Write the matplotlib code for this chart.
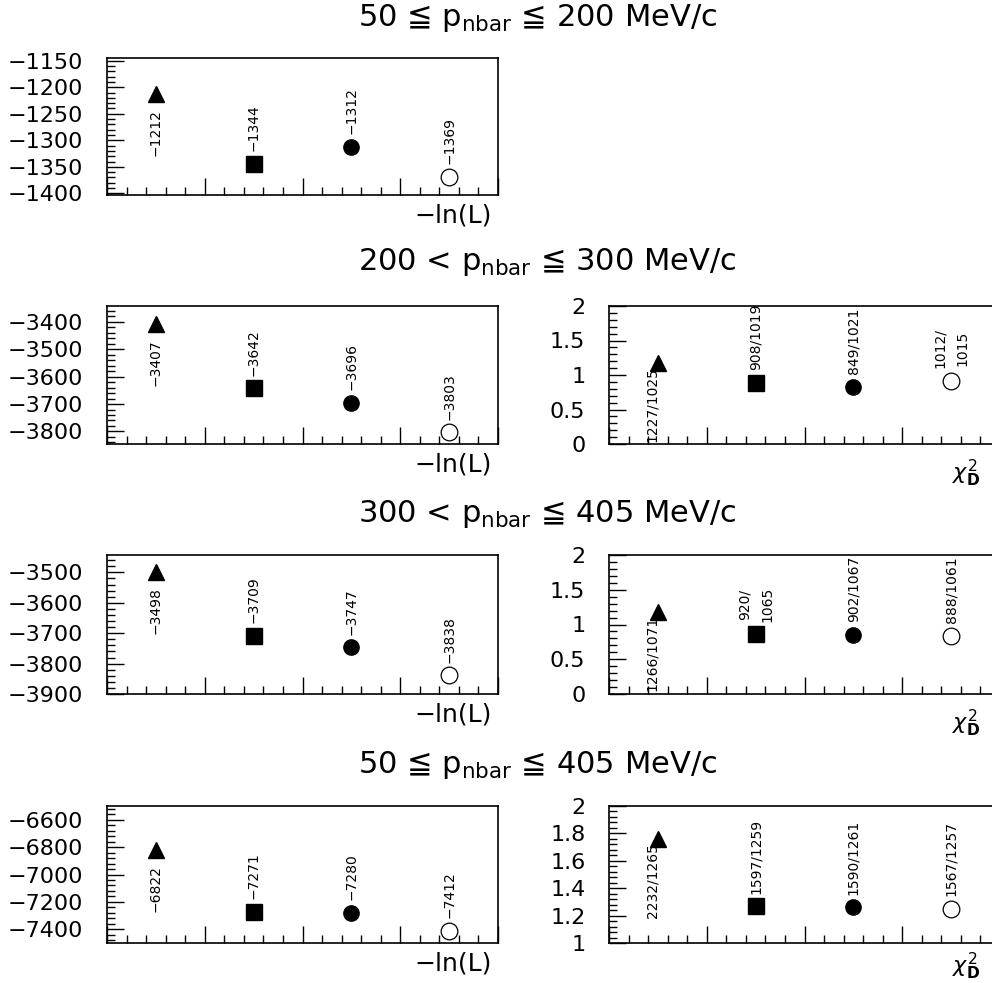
import matplotlib
matplotlib.use("Agg")
import matplotlib.pyplot as plt
from matplotlib.ticker import MultipleLocator, FuncFormatter

W, H = 992, 983

# x positions of the four fits (same in every panel)
x_pos = [0.5, 1.5, 2.5, 3.5]

titles = [
    r"50 ≦ $\mathrm{p}_{\mathrm{nbar}}$ ≦ 200 MeV/c",
    r"200 < $\mathrm{p}_{\mathrm{nbar}}$ ≦ 300 MeV/c",
    r"300 < $\mathrm{p}_{\mathrm{nbar}}$ ≦ 405 MeV/c",
    r"50 ≦ $\mathrm{p}_{\mathrm{nbar}}$ ≦ 405 MeV/c",
]

# -ln(L) values
lnl_50_200 = [-1212, -1344, -1312, -1369]
lnl_200_300 = [-3407, -3642, -3696, -3803]
lnl_300_405 = [-3498, -3709, -3747, -3838]
lnl_50_405 = [-6822, -7271, -7280, -7412]

# chi2 / ndf values (as drawn) and their labels
chi_200_300 = [1.18, 0.89, 0.83, 0.92]
chi_300_405 = [1.18, 0.86, 0.85, 0.84]
chi_50_405 = [1.76, 1.27, 1.26, 1.25]
chi_lab_200_300 = ["1227/1025", "908/1019", "849/1021", "1012/\n1015"]
chi_lab_300_405 = ["1266/1071", "920/\n1065", "902/1067", "888/1061"]
chi_lab_50_405 = ["2232/1265", "1597/1259", "1590/1261", "1567/1257"]

# y ranges and major tick steps
lnl_ylims = [(-1403, -1145), (-3846, -3342), (-3900, -3443), (-7500, -6500)]
lnl_steps = [50, 100, 100, 200]
chi_ylims = [(0, 2), (0, 2), (1, 2)]
chi_steps = [0.5, 0.5, 0.2]

# panel rows in pixels (top, bottom)
rows = [(58, 195), (306, 444), (555, 694), (806, 943)]
title_y = [18, 262, 514, 765]
chi_label_y = [-0.1, -0.1, -0.06]


def fmt(v, pos=None):
    return f"{v:g}".replace("-", "\u2212")


def make_axes(x0, top, bottom, width=391):
    ax = fig.add_axes([x0 / W, 1 - bottom / H, width / W, (bottom - top) / H])
    for s in ax.spines.values():
        s.set_linewidth(1.2)
    ax.set_xlim(0, 4)
    ax.xaxis.set_major_locator(MultipleLocator(1))
    ax.xaxis.set_minor_locator(MultipleLocator(0.2))
    ax.tick_params(which="both", direction="in", top=False, right=False,
                   labelbottom=False, width=1)
    ax.tick_params(which="major", length=12)
    ax.tick_params(which="minor", length=6)
    ax.tick_params(axis="y", labelsize=16, pad=17)
    return ax


def draw_points(ax, vals):
    ax.plot(x_pos[0], vals[0], "^", color="black", ms=12)
    ax.plot(x_pos[1], vals[1], "s", color="black", ms=11)
    ax.plot(x_pos[2], vals[2], "o", color="black", ms=11)
    ax.plot(x_pos[3], vals[3], "o", mfc="white", mec="black", mew=0.9, ms=12)


def draw_labels(ax, vals, labels, below_off):
    ax.annotate(labels[0], (x_pos[0], vals[0]), xytext=below_off,
                textcoords="offset points", rotation=90, ha="center", va="top",
                fontsize=10)
    for x, v, t in zip(x_pos[1:], vals[1:], labels[1:]):
        ax.annotate(t, (x, v), xytext=(0, 9), textcoords="offset points",
                    rotation=90, ha="center", va="bottom", fontsize=10,
                    linespacing=1.8)


fig = plt.figure(figsize=(W / 100, H / 100), dpi=100)

lnl_sets = [lnl_50_200, lnl_200_300, lnl_300_405, lnl_50_405]
for i, vals in enumerate(lnl_sets):
    top, bottom = rows[i]
    ax = make_axes(107, top, bottom)
    ax.set_ylim(*lnl_ylims[i])
    ax.yaxis.set_major_locator(MultipleLocator(lnl_steps[i]))
    ax.yaxis.set_minor_locator(MultipleLocator(lnl_steps[i] / 5))
    ax.yaxis.set_major_formatter(FuncFormatter(fmt))
    draw_points(ax, vals)
    draw_labels(ax, vals, [fmt(v) for v in vals], (0, -11))
    ax.text(0.985, -0.15, "\u2212ln(L)", transform=ax.transAxes,
            ha="right", va="center", fontsize=18)
    fig.text(358 / W, 1 - title_y[i] / H, titles[i], ha="left", va="center",
             fontsize=22)

chi_sets = [chi_200_300, chi_300_405, chi_50_405]
chi_labels = [chi_lab_200_300, chi_lab_300_405, chi_lab_50_405]
for j, vals in enumerate(chi_sets):
    top, bottom = rows[j + 1]
    ax = make_axes(609, top, bottom)
    ax.set_ylim(*chi_ylims[j])
    ax.yaxis.set_major_locator(MultipleLocator(chi_steps[j]))
    ax.yaxis.set_minor_locator(MultipleLocator(chi_steps[j] / 5))
    ax.yaxis.set_major_formatter(FuncFormatter(fmt))
    draw_points(ax, vals)
    draw_labels(ax, vals, chi_labels[j], (-4, -3))
    ax.text(0.95, chi_label_y[j], r"$\chi^{2}_{\mathbf{D}}$",
            transform=ax.transAxes, ha="right", va="top", fontsize=16)

fig.savefig("out.png", dpi=100)
